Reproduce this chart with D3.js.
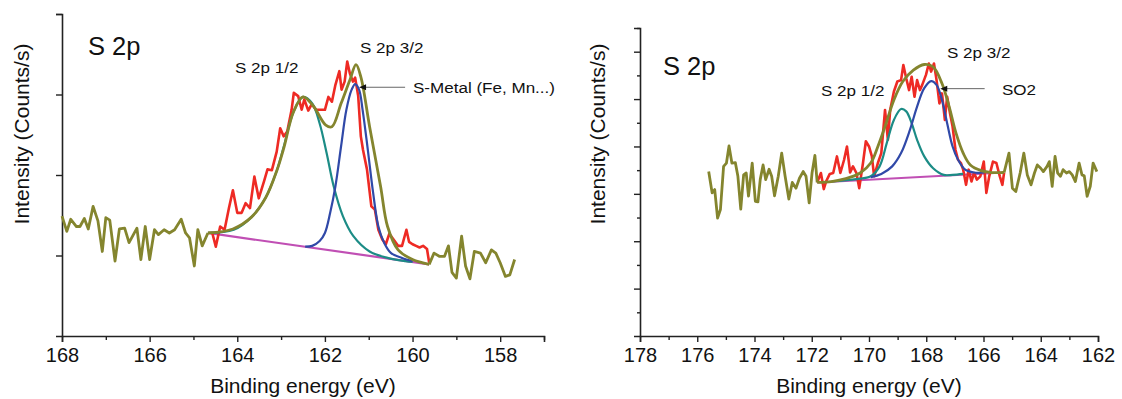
<!DOCTYPE html>
<html>
<head>
<meta charset="utf-8">
<script src="https://cdn.jsdelivr.net/npm/d3@7"></script>
<style>
  body { margin: 0; background: #fff; }
  svg text { font-family: "Liberation Sans", Arial, sans-serif; fill: #111; }
</style>
</head>
<body>
<svg id="chart" width="1122" height="399"></svg>
<script>
// ---- left panel (S-Metal) : [eV, intensity] ----
var leftRawOuterA = [[168.00,1.49],[167.89,1.30],[167.80,1.45],[167.67,1.36],[167.59,1.36],[167.49,1.46],[167.40,1.33],[167.29,1.61],[167.18,1.43],[167.08,1.05],[167.00,1.47],[166.91,1.44],[166.79,0.93],[166.69,1.33],[166.57,1.34],[166.47,1.16],[166.29,1.34],[166.20,0.95],[166.10,1.36],[166.00,0.95],[165.89,1.32],[165.80,1.26],[165.67,1.32],[165.55,1.28],[165.43,1.32],[165.28,1.45],[165.18,1.28],[165.09,1.22],[164.98,0.87],[164.90,1.32],[164.80,1.12],[164.67,1.28]];
var leftRawOuterB = [[159.62,0.89],[159.51,1.03],[159.39,0.99],[159.27,0.99],[159.18,1.12],[159.10,0.79],[159.00,0.72],[158.88,1.24],[158.79,0.87],[158.69,0.71],[158.59,1.05],[158.45,1.03],[158.33,0.91],[158.20,1.07],[158.10,1.03],[158.00,0.91],[157.88,0.74],[157.78,0.76],[157.67,0.95]];
var leftRaw = [[164.65,1.28],[164.57,1.28],[164.49,1.11],[164.39,1.36],[164.29,1.32],[164.19,1.59],[164.10,1.81],[164.00,1.53],[163.90,1.53],[163.81,1.65],[163.71,1.59],[163.61,1.98],[163.51,1.71],[163.39,1.92],[163.31,2.07],[163.21,2.06],[163.10,2.29],[163.02,2.58],[162.94,2.48],[162.86,2.54],[162.76,2.81],[162.71,3.02],[162.61,2.98],[162.53,2.81],[162.47,2.94],[162.38,2.80],[162.30,2.88],[162.20,2.81],[162.08,2.81],[162.00,2.81],[161.92,2.97],[161.84,2.91],[161.76,3.12],[161.67,3.29],[161.62,3.06],[161.55,3.16],[161.49,3.41],[161.43,3.26],[161.36,3.16],[161.31,3.21],[161.24,2.98],[161.18,2.48],[161.13,2.31],[161.04,2.07],[160.94,1.61],[160.86,1.57],[160.78,1.32],[160.69,1.20],[160.61,1.14],[160.53,1.27],[160.45,1.21],[160.33,1.12],[160.24,1.12],[160.14,1.32],[160.08,1.17],[160.00,1.14],[159.92,1.12],[159.84,1.10],[159.76,1.12],[159.67,1.08],[159.62,0.91]];
var leftEnvelope = [[164.67,1.28],[164.10,1.33],[163.67,1.48],[163.35,1.72],[163.10,2.05],[162.94,2.33],[162.72,2.78],[162.50,2.97],[162.27,2.86],[161.98,2.62],[161.84,2.60],[161.63,2.89],[161.43,3.18],[161.29,3.37],[161.18,3.22],[160.98,2.60],[160.73,1.86],[160.57,1.36],[160.33,1.07],[160.00,0.95],[159.62,0.89]];
var leftHalf = [[164.67,1.28],[164.08,1.32],[163.67,1.48],[163.35,1.72],[163.10,2.05],[162.94,2.35],[162.72,2.78],[162.50,2.97],[162.29,2.89],[162.12,2.64],[161.96,2.27],[161.80,1.86],[161.59,1.49],[161.35,1.24],[160.98,1.05],[160.57,0.97],[160.16,0.93],[160.00,0.92]];
var leftThreeHalf = [[162.45,1.11],[162.29,1.12],[162.12,1.18],[162.00,1.28],[161.88,1.53],[161.76,1.86],[161.63,2.36],[161.51,2.81],[161.39,3.06],[161.31,3.13],[161.22,3.06],[161.14,2.81],[161.02,2.31],[160.90,1.78],[160.78,1.36],[160.65,1.16],[160.49,1.03],[160.24,0.97],[160.00,0.93]];
var leftBaseline = [[164.67,1.28],[159.62,0.89]];
var leftArrow = [[160.17,3.09],[161.22,3.09]];

// ---- right panel (SO2) ----
var rightRawOuterA = [[175.60,3.47],[175.48,3.02],[175.39,3.09],[175.29,2.49],[175.19,2.67],[175.08,3.58],[174.98,3.65],[174.89,4.01],[174.79,3.65],[174.67,3.66],[174.58,3.37],[174.48,2.68],[174.38,3.40],[174.29,3.44],[174.21,2.95],[174.08,3.65],[173.97,2.84],[173.88,2.83],[173.80,3.30],[173.70,3.61],[173.61,3.30],[173.49,3.52],[173.40,3.37],[173.30,2.96],[173.17,3.37],[173.05,3.86],[172.93,3.37],[172.80,2.89],[172.68,3.24],[172.55,3.12],[172.43,3.33],[172.30,3.47],[172.20,3.37],[172.09,2.81],[171.99,3.44],[171.89,3.81],[171.81,3.24]];
var rightRawOuterB = [[165.28,3.45],[165.11,3.86],[164.99,3.12],[164.87,3.05],[164.72,3.44],[164.59,3.86],[164.47,3.40],[164.34,3.19],[164.22,3.44],[164.12,3.61],[164.00,3.54],[163.91,3.47],[163.78,3.58],[163.70,3.68],[163.60,3.16],[163.50,3.79],[163.41,3.44],[163.31,3.37],[163.22,3.51],[163.10,3.44],[163.00,3.47],[162.90,3.40],[162.79,3.26],[162.66,3.65],[162.56,3.40],[162.48,3.38],[162.38,2.95],[162.27,3.16],[162.17,3.65],[162.04,3.47]];
var rightRaw = [[171.81,3.24],[171.68,3.44],[171.58,3.10],[171.50,3.26],[171.37,3.42],[171.25,3.44],[171.12,3.79],[171.00,3.44],[170.87,3.72],[170.77,4.00],[170.66,3.45],[170.56,3.58],[170.44,3.44],[170.34,3.12],[170.21,3.65],[170.11,4.11],[170.00,4.00],[169.90,3.79],[169.82,3.37],[169.69,3.65],[169.57,3.86],[169.44,4.77],[169.34,4.14],[169.26,4.77],[169.13,5.16],[169.01,5.37],[168.88,5.40],[168.80,5.72],[168.70,5.44],[168.60,5.19],[168.51,5.47],[168.41,5.05],[168.32,5.40],[168.22,5.19],[168.14,5.30],[168.01,5.51],[167.91,5.75],[167.83,5.58],[167.73,5.75],[167.64,5.40],[167.54,4.91],[167.45,5.12],[167.35,4.56],[167.27,5.05],[167.17,4.70],[167.08,4.42],[166.98,3.93],[166.89,3.72],[166.79,3.65],[166.71,3.51],[166.61,3.19],[166.52,3.51],[166.42,3.26],[166.33,3.44],[166.23,3.30],[166.11,3.37],[165.99,3.68],[165.90,3.02],[165.80,3.37],[165.67,3.68],[165.55,3.65],[165.43,3.37],[165.34,3.19],[165.28,3.45]];
var rightEnvelope = [[171.81,3.24],[171.31,3.26],[170.81,3.32],[170.31,3.44],[169.94,3.65],[169.69,4.00],[169.44,4.42],[169.13,4.98],[168.82,5.37],[168.45,5.61],[168.07,5.73],[167.76,5.68],[167.45,5.33],[167.20,4.84],[166.96,4.28],[166.71,3.86],[166.46,3.61],[166.08,3.49],[165.71,3.45],[165.28,3.45]];
var rightHalf = [[171.31,3.26],[170.44,3.31],[169.94,3.37],[169.63,3.58],[169.38,4.07],[169.13,4.56],[168.88,4.79],[168.70,4.74],[168.51,4.49],[168.32,4.14],[168.07,3.79],[167.76,3.54],[167.39,3.40],[167.08,3.40],[166.71,3.42]];
var rightThreeHalf = [[169.94,3.35],[169.57,3.42],[169.19,3.58],[168.88,3.86],[168.57,4.35],[168.32,4.84],[168.07,5.23],[167.83,5.38],[167.64,5.30],[167.45,4.98],[167.27,4.49],[167.08,4.00],[166.89,3.72],[166.64,3.51],[166.33,3.45],[165.96,3.45]];
var rightBaseline = [[171.81,3.24],[165.28,3.45]];
var rightArrow = [[165.96,5.22],[167.51,5.22]];

var leftXTicks = [168, 166, 164, 162, 160, 158];
var rightXTicks = [178, 176, 174, 172, 170, 168, 166, 164, 162];

var colors = { olive: "#84852e", red: "#ee2a24", blue: "#3049a8", teal: "#1c8c86", magenta: "#c04fb4" };

var svg = d3.select("#chart");

// horizontally widened text, like the stretched figure
function label(g, px, py, size, str, sx) {
  return g.append("text")
    .attr("transform", "translate(" + px + "," + py + ") scale(" + (sx || 1) + ",1)")
    .style("font-size", size + "px").text(str);
}

function drawPanel(cfg) {
  var x = d3.scaleLinear().domain(cfg.xDomain).range(cfg.xRange);
  var y = d3.scaleLinear().domain(cfg.yDomain).range(cfg.yRange);
  var g = svg.append("g");

  // x axis: major ticks labelled, minor ticks at odd eV
  var xAxis = d3.axisBottom(x).tickValues(cfg.xTicks).tickSize(6).tickPadding(6).tickFormat(d3.format("d"));
  var xg = g.append("g").attr("transform", "translate(0," + cfg.yRange[0] + ")").call(xAxis);
  var minorX = d3.range(cfg.xDomain[1], cfg.xDomain[0] + 0.01, 1).filter(v => cfg.xTicks.indexOf(v) < 0);
  g.append("g").attr("transform", "translate(0," + cfg.yRange[0] + ")")
    .call(d3.axisBottom(x).tickValues(minorX).tickSize(4).tickFormat(""))
    .select(".domain").remove();
  xg.selectAll("text").style("font-size", "20px").style("font-family", "Liberation Sans, Arial, sans-serif").attr("fill", "#111");

  var yAxis = d3.axisLeft(y).tickValues(cfg.yTicks).tickSize(6).tickFormat("");
  g.append("g").attr("transform", "translate(" + cfg.xRange[0] + ",0)").call(yAxis);
  if (cfg.yMinor) {
    g.append("g").attr("transform", "translate(" + cfg.xRange[0] + ",0)")
      .call(d3.axisLeft(y).tickValues(cfg.yMinor).tickSize(3).tickFormat(""))
      .select(".domain").remove();
  }
  g.selectAll(".domain").attr("stroke", "#222").attr("stroke-width", 1.6);
  g.selectAll(".tick line").attr("stroke", "#222").attr("stroke-width", 1.4);

  var line = d3.line().x(d => x(d[0])).y(d => y(d[1]));
  var smooth = d3.line().x(d => x(d[0])).y(d => y(d[1])).curve(d3.curveCatmullRom.alpha(0.5));

  g.append("path").datum(cfg.baseline).attr("d", line).attr("fill", "none").attr("stroke", colors.magenta).attr("stroke-width", 2.2);
  g.append("path").datum(cfg.raw).attr("d", line).attr("fill", "none").attr("stroke", colors.red).attr("stroke-width", 2.6).attr("stroke-linejoin", "round");
  g.append("path").datum(cfg.half).attr("d", smooth).attr("fill", "none").attr("stroke", colors.teal).attr("stroke-width", 2.2);
  g.append("path").datum(cfg.threeHalf).attr("d", smooth).attr("fill", "none").attr("stroke", colors.blue).attr("stroke-width", 2.2);
  g.append("path").datum(cfg.envelope).attr("d", smooth).attr("fill", "none").attr("stroke", colors.olive).attr("stroke-width", 2.8);
  [cfg.outerA, cfg.outerB].forEach(function (s) {
    g.append("path").datum(s).attr("d", line).attr("fill", "none").attr("stroke", colors.olive).attr("stroke-width", 2.8).attr("stroke-linejoin", "round");
  });

  // arrow pointing at the 3/2 peak
  var a = cfg.arrow;
  g.append("line").attr("x1", x(a[0][0])).attr("y1", y(a[0][1])).attr("x2", x(a[1][0]) + 6).attr("y2", y(a[1][1]))
    .attr("stroke", "#555").attr("stroke-width", 0.9);
  var ax = x(a[1][0]), ay = y(a[1][1]);
  g.append("path").attr("d", "M" + ax + "," + ay + "l7,-3l0,6z").attr("fill", "#111");

  // labels
  label(g, cfg.title[0], cfg.title[1], 25, "S 2p", 1.02);
  cfg.notes.forEach(function (n) { label(g, n[0], n[1], 15.5, n[2], 1.1); });
  g.append("text").attr("x", (cfg.xRange[0] + cfg.xRange[1]) / 2).attr("y", 393)
    .attr("text-anchor", "middle").style("font-size", "21px").text("Binding energy (eV)");
  g.append("text").attr("transform", "translate(" + cfg.yTitleX + ",134) rotate(-90)")
    .attr("text-anchor", "middle").style("font-size", "21px").text("Intensity (Counts/s)");
}

drawPanel({
  xDomain: [168, 157], xRange: [62, 544], yDomain: [0, 4], yRange: [336, 14],
  xTicks: leftXTicks, yTicks: [1, 2, 3, 4], yMinor: null,
  raw: leftRaw, outerA: leftRawOuterA, outerB: leftRawOuterB, envelope: leftEnvelope,
  half: leftHalf, threeHalf: leftThreeHalf, baseline: leftBaseline, arrow: leftArrow,
  title: [88, 55], yTitleX: 29,
  notes: [[235, 73, "S 2p 1/2"], [360, 53, "S 2p 3/2"], [413, 93, "S-Metal (Fe, Mn...)"]]
});

drawPanel({
  xDomain: [178, 162], xRange: [640, 1098], yDomain: [0, 6.5], yRange: [336, 28],
  xTicks: rightXTicks, yTicks: [1, 2, 3, 4, 5, 6], yMinor: [0.5, 1.5, 2.5, 3.5, 4.5, 5.5, 6.5],
  raw: rightRaw, outerA: rightRawOuterA, outerB: rightRawOuterB, envelope: rightEnvelope,
  half: rightHalf, threeHalf: rightThreeHalf, baseline: rightBaseline, arrow: rightArrow,
  title: [663, 75], yTitleX: 605,
  notes: [[821, 96, "S 2p 1/2"], [947, 58, "S 2p 3/2"], [1002, 95, "SO2"]]
});
</script>
</body>
</html>
